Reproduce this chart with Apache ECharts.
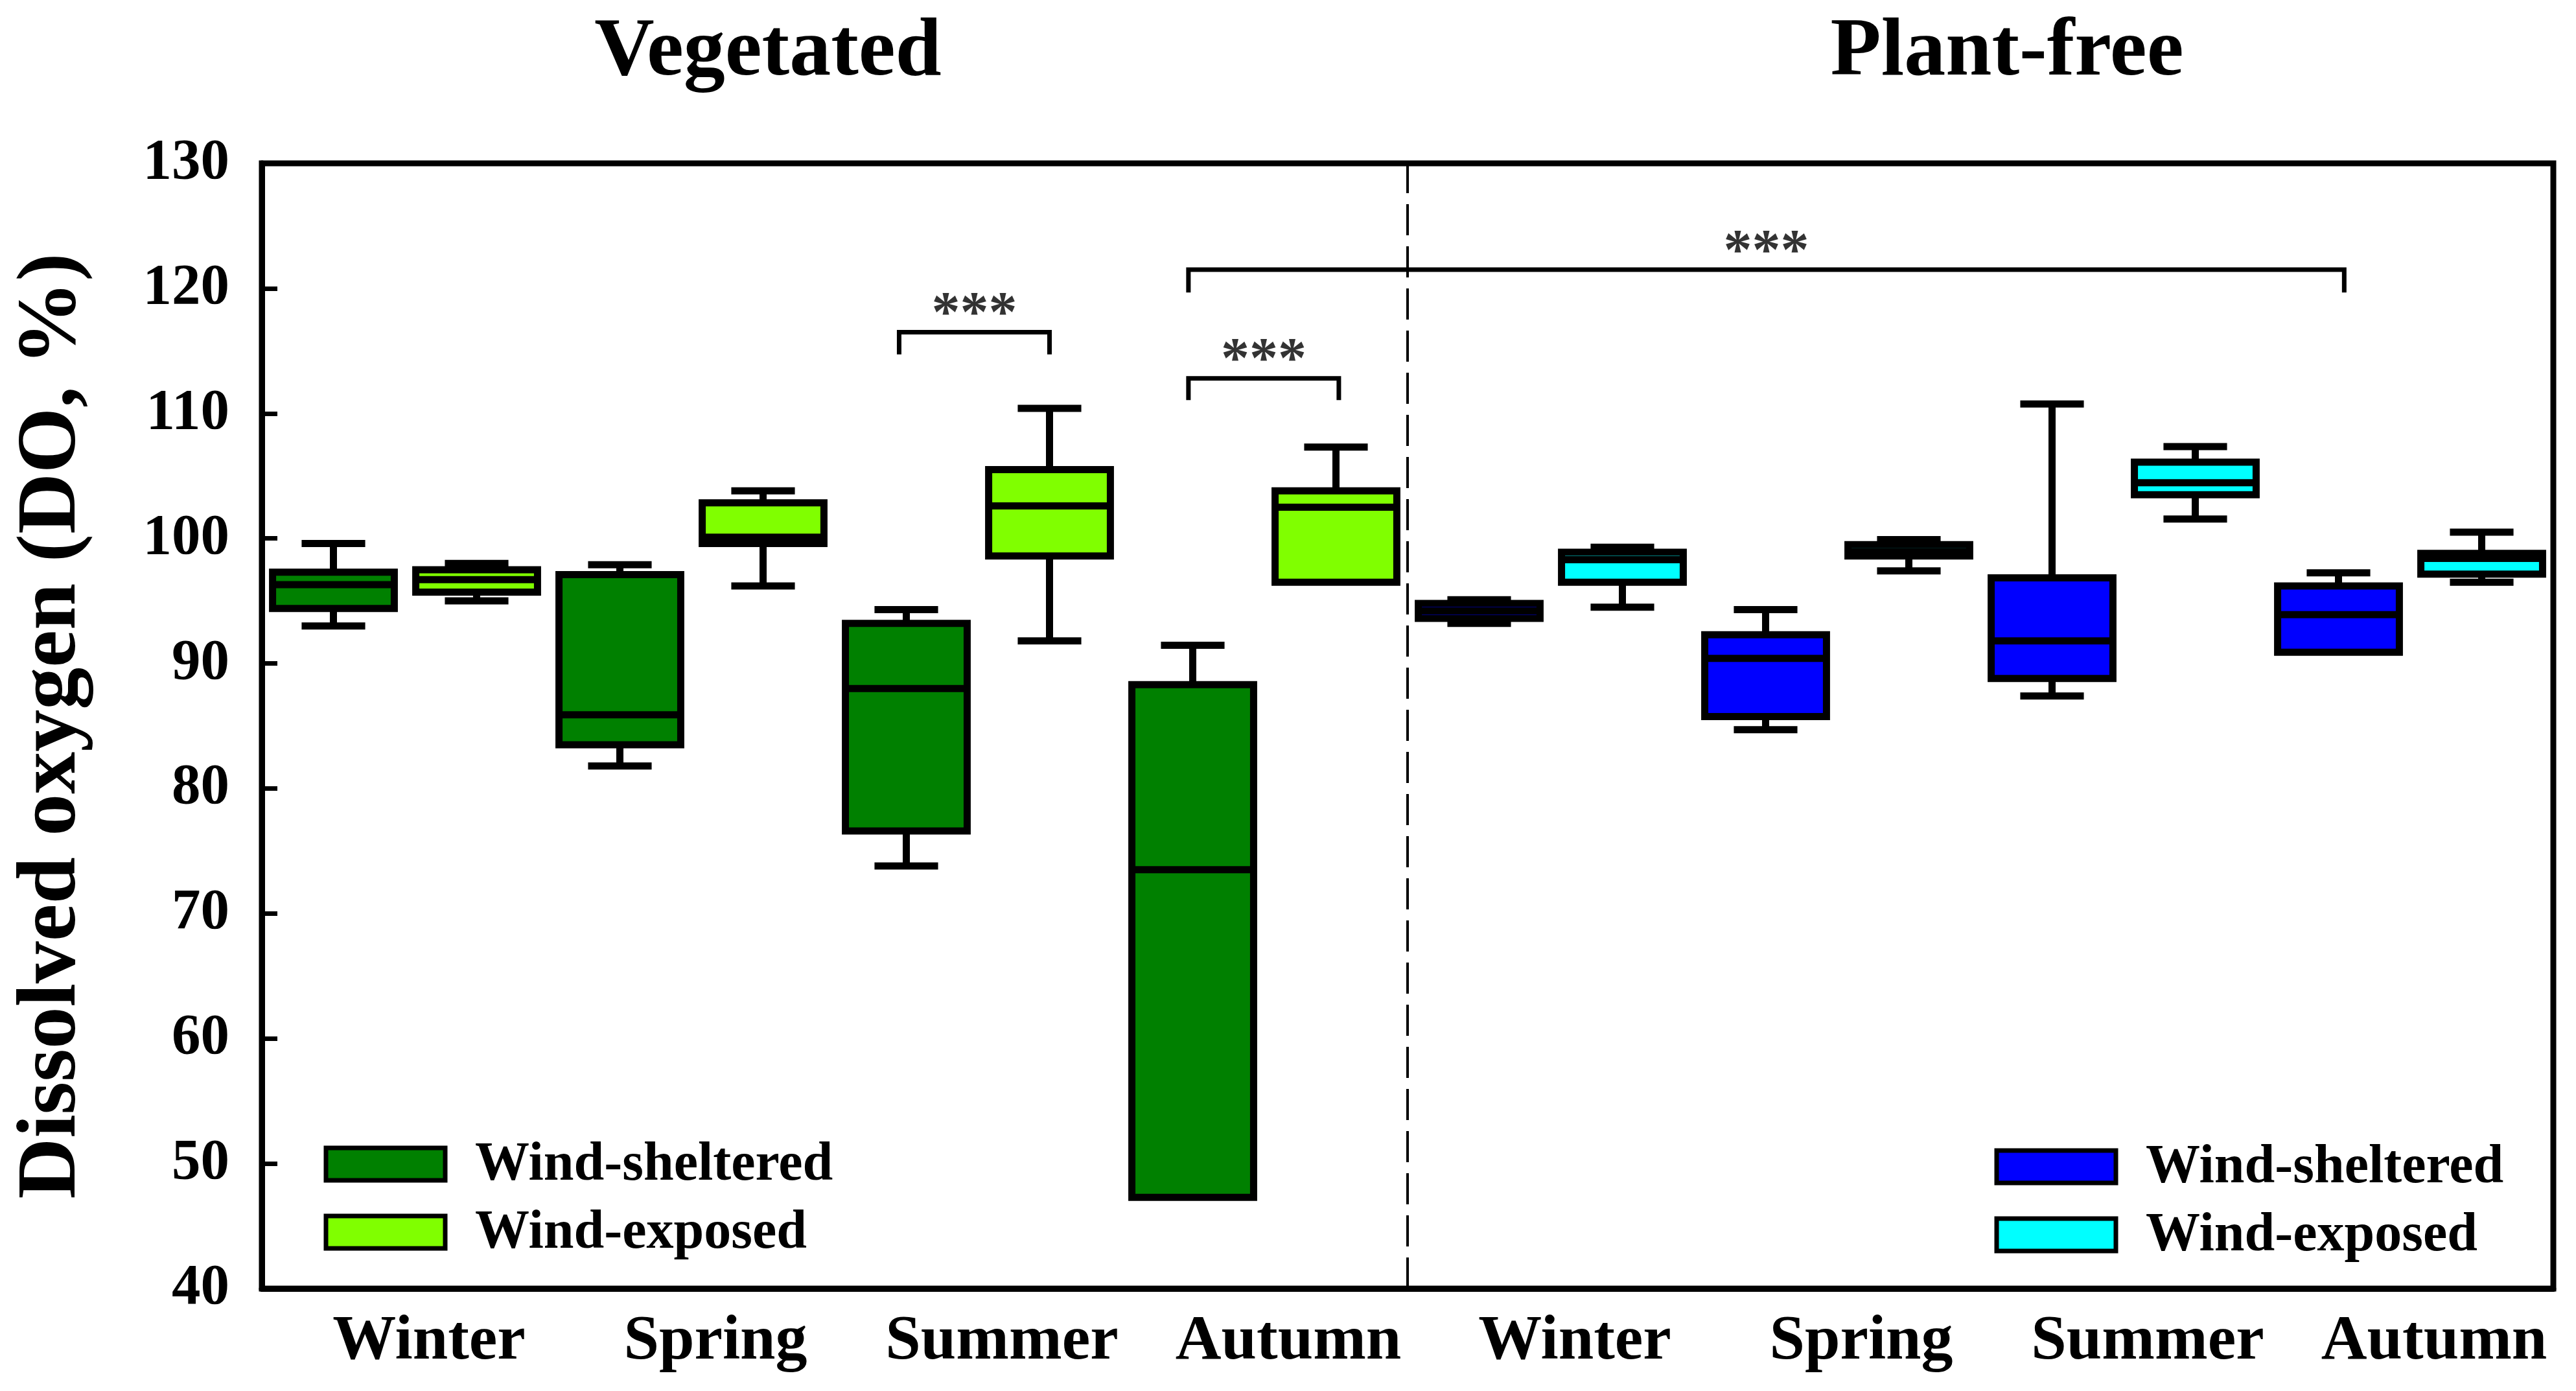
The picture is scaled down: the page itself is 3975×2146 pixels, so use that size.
<!DOCTYPE html>
<html>
<head>
<meta charset="utf-8">
<script src="https://cdn.jsdelivr.net/npm/echarts@6/dist/echarts.min.js"></script>
<style>
  html, body { margin: 0; padding: 0; background: #fff; }
  #chart { width: 3975px; height: 2146px; }
</style>
</head>
<body>
<div id="chart"></div>
<script>
// ---------- data (min, Q1, median, Q3, max) ----------
const seasons = ['Winter', 'Spring', 'Summer', 'Autumn'];
const panelTitles = ['Vegetated', 'Plant-free'];
const legendNames = ['Wind-sheltered', 'Wind-exposed'];

const vegSheltered = [
  [93.0, 94.4, 96.3, 97.3, 99.6],
  [81.8, 83.5, 85.9, 97.1, 97.9],
  [73.8, 76.6, 88.0, 93.2, 94.3],
  [47.3, 47.3, 73.5, 88.3, 91.45]
];
const vegExposed = [
  [95.0, 95.7, 96.7, 97.5, 98.0],
  [96.2, 99.6, 100.1, 102.85, 103.8],
  [91.8, 98.6, 102.6, 105.5, 110.4],
  [96.5, 96.5, 102.5, 103.8, 107.3]
];
const freeSheltered = [
  [93.2, 93.6, 94.2, 94.8, 95.1],
  [84.7, 85.75, 90.4, 92.3, 94.3],
  [87.4, 88.8, 91.8, 96.85, 110.75],
  [90.9, 90.9, 93.9, 96.2, 97.25]
];
const freeExposed = [
  [94.5, 96.5, 98.3, 98.9, 99.3],
  [97.4, 98.6, 98.95, 99.5, 99.9],
  [101.55, 103.5, 104.45, 106.1, 107.35],
  [96.5, 97.15, 98.4, 98.8, 100.5]
];

// significance brackets: x in slot units (0..16), y in DO %
const sigBrackets = [
  { from: 4.45, to: 5.50, y: 116.5, end: 114.9, label: '***' },
  { from: 6.47, to: 7.52, y: 112.8, end: 111.25, label: '***' },
  { from: 6.47, to: 14.54, y: 121.5, end: 119.85, label: '***' }
];
const separatorX = 8;

// ---------- styling ----------
const COLORS = ['#008000', '#80FF00', '#0000FF', '#00FFFF'];
const FONT = '"Liberation Serif", "Times New Roman", serif';

// build box data: [slotCenter, min, q1, med, q3, max]
const groups = [[vegSheltered, vegExposed], [freeSheltered, freeExposed]];
const boxData = [];
const boxColorIndex = [];
groups.forEach((pair, g) => {
  seasons.forEach((s, si) => {
    pair.forEach((table, k) => {
      boxData.push([g * 8 + si * 2 + k + 0.5].concat(table[si]));
      boxColorIndex.push(g * 2 + k);
    });
  });
});
const seasonLabels = seasons.concat(seasons);

function renderBox(params, api) {
  const x = api.value(0);
  const lo = api.value(1), q1 = api.value(2), med = api.value(3), q3 = api.value(4), hi = api.value(5);
  const ci = boxColorIndex[params.dataIndex];
  const unit = api.size([1, 0])[0];
  const bw = unit * 0.85;
  const cw = unit * 0.444;
  const yHi = api.coord([x, hi])[1];
  const yQ3 = api.coord([x, q3])[1];
  const yMed = api.coord([x, med])[1];
  const yQ1 = api.coord([x, q1])[1];
  const yLo = api.coord([x, lo])[1];
  const cx = api.coord([x, med])[0];
  const lw = 11;
  const children = [];
  if (hi > q3) {
    children.push({ type: 'line', shape: { x1: cx, y1: yHi, x2: cx, y2: yQ3 }, style: { stroke: '#000', lineWidth: lw } });
    children.push({ type: 'line', shape: { x1: cx - cw / 2, y1: yHi, x2: cx + cw / 2, y2: yHi }, style: { stroke: '#000', lineWidth: lw } });
  }
  if (lo < q1) {
    children.push({ type: 'line', shape: { x1: cx, y1: yQ1, x2: cx, y2: yLo }, style: { stroke: '#000', lineWidth: lw } });
    children.push({ type: 'line', shape: { x1: cx - cw / 2, y1: yLo, x2: cx + cw / 2, y2: yLo }, style: { stroke: '#000', lineWidth: lw } });
  }
  children.push({
    type: 'rect',
    shape: { x: cx - bw / 2, y: yQ3, width: bw, height: yQ1 - yQ3 },
    style: { fill: COLORS[ci], stroke: '#000', lineWidth: lw }
  });
  children.push({ type: 'line', shape: { x1: cx - bw / 2, y1: yMed, x2: cx + bw / 2, y2: yMed }, style: { stroke: '#000', lineWidth: lw } });
  return { type: 'group', children: children };
}

const series = [];
series.push({
  type: 'custom',
  name: 'DO',
  xAxisIndex: 0,
  yAxisIndex: 0,
  renderItem: renderBox,
  encode: { x: 0, y: [1, 2, 3, 4, 5] },
  data: boxData,
  z: 3
});

// separator
series.push({
  type: 'line', xAxisIndex: 0, yAxisIndex: 0, symbol: 'none', silent: true,
  data: [[separatorX, 40], [separatorX, 130]],
  lineStyle: { color: '#000', width: 4, type: [48, 17] }, z: 2
});

// significance brackets and stars
sigBrackets.forEach(b => {
  series.push({
    type: 'line', xAxisIndex: 0, yAxisIndex: 0, symbol: 'none', silent: true,
    data: [[b.from, b.end], [b.from, b.y], [b.to, b.y], [b.to, b.end]],
    lineStyle: { color: '#000', width: 7, cap: 'square', join: 'miter' }, z: 4
  });
});
series.push({
  type: 'scatter', xAxisIndex: 0, yAxisIndex: 0, symbolSize: 0, silent: true,
  data: sigBrackets.map(b => ({ value: [(b.from + b.to) / 2, b.y + 1.3], name: b.label })),
  label: {
    show: true, position: 'inside', formatter: '{b}',
    color: '#000', fontFamily: FONT, fontWeight: 'bold', fontSize: 88
  }, z: 5
});

// legend drawn as graphic (two separate keys)
function legendBlock(x, yTop, colorOffset) {
  const els = [];
  legendNames.forEach((n, i) => {
    const y = yTop + i * 105;
    els.push({ type: 'rect', shape: { x: x, y: y, width: 184, height: 50 }, style: { fill: COLORS[colorOffset + i], stroke: '#000', lineWidth: 7 } });
    els.push({ type: 'text', x: x + 230, y: y + 27, style: { text: n, fontFamily: FONT, fontWeight: 'bold', fontSize: 84, fill: '#000', align: 'left', verticalAlign: 'middle' } });
  });
  return els;
}

const option = {
  backgroundColor: '#fff',
  animation: false,
  grid: {
    left: 404, right: 35, top: 252, bottom: 158,
    show: true, borderColor: '#000', borderWidth: 9, containLabel: false
  },
  graphic: [
    { type: 'text', x: 1185, y: 82, style: { text: panelTitles[0], fontFamily: FONT, fontWeight: 'bold', fontSize: 128, fill: '#000', align: 'center', verticalAlign: 'middle' } },
    { type: 'text', x: 3097, y: 82, style: { text: panelTitles[1], fontFamily: FONT, fontWeight: 'bold', fontSize: 128, fill: '#000', align: 'center', verticalAlign: 'middle' } }
  ].concat(legendBlock(503, 1771, 0)).concat(legendBlock(3081, 1775, 2)),
  xAxis: [
    {
      type: 'value', min: 0, max: 16, position: 'bottom',
      axisLine: { show: true, onZero: false, lineStyle: { color: '#000', width: 9 } },
      axisTick: { show: false }, axisLabel: { show: false }, splitLine: { show: false }
    },
    {
      type: 'category', data: seasonLabels, position: 'bottom', boundaryGap: true,
      axisLine: { show: false }, axisTick: { show: false }, splitLine: { show: false },
      axisLabel: {
        show: true, interval: 0, margin: 34, color: '#000',
        fontFamily: FONT, fontWeight: 'bold', fontSize: 98,
        padding: [0, 0, 0, 74]
      }
    }
  ],
  yAxis: [{
    type: 'value', min: 40, max: 130, interval: 10,
    name: 'Dissolved oxygen (DO, %)', nameLocation: 'middle', nameGap: 258, nameRotate: 90,
    nameTextStyle: { fontFamily: FONT, fontWeight: 'bold', fontSize: 130, color: '#000' },
    axisLine: { show: true, onZero: false, lineStyle: { color: '#000', width: 9 } },
    axisTick: { show: true, inside: true, length: 24, lineStyle: { color: '#000', width: 7 } },
    axisLabel: { margin: 50, color: '#000', fontFamily: FONT, fontWeight: 'bold', fontSize: 89 },
    splitLine: { show: false }
  }],
  series: series
};

const chart = echarts.init(document.getElementById('chart'), null, { renderer: 'canvas' });
chart.setOption(option);
</script>
</body>
</html>
